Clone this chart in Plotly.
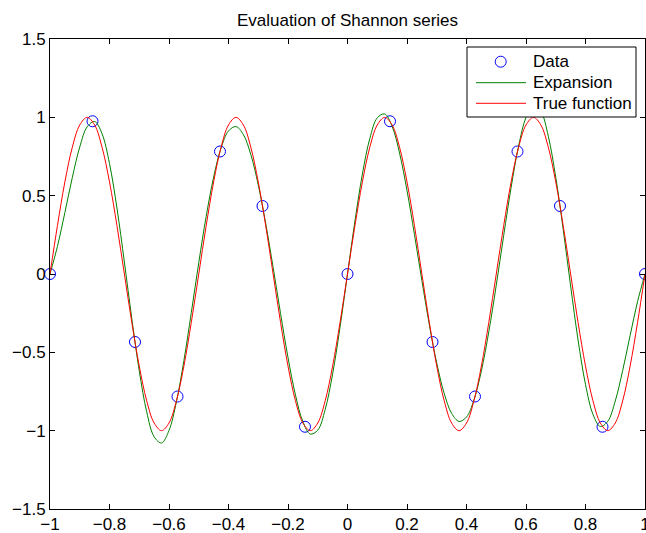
import plotly.graph_objects as go

# Sample data (15 samples)
data_x = [-1.0, -0.8571, -0.7143, -0.5714, -0.4286, -0.2857, -0.1429, 0.0,
          0.1429, 0.2857, 0.4286, 0.5714, 0.7143, 0.8571, 1.0]
data_y = [0.0, 0.975, -0.434, -0.782, 0.782, 0.434, -0.975, 0.0,
          0.975, -0.434, -0.782, 0.782, 0.434, -0.975, 0.0]

# Curve abscissae (step 0.025)
curve_x = [round(-1 + 0.025 * i, 3) for i in range(81)]

expansion_y = [
    0.0, 0.1764, 0.3921, 0.6157, 0.8107, 0.9398, 0.9736, 0.8950, 0.7050, 0.4210,
    0.0765, -0.2851, -0.6179, -0.8796, -1.0389, -1.0786, -0.9991, -0.8152, -0.5533, -0.2461,
    0.0717, 0.3685, 0.6187, 0.8038, 0.9130, 0.9412, 0.8895, 0.7624, 0.5691, 0.3229,
    0.0417, -0.2522, -0.5328, -0.7718, -0.9422, -1.0216, -0.9966, -0.8648, -0.6375, -0.3381,
    0.0, 0.3381, 0.6375, 0.8648, 0.9966, 1.0216, 0.9422, 0.7718, 0.5328, 0.2522,
    -0.0417, -0.3229, -0.5691, -0.7624, -0.8895, -0.9412, -0.9130, -0.8038, -0.6187, -0.3685,
    -0.0717, 0.2461, 0.5533, 0.8152, 0.9991, 1.0786, 1.0389, 0.8796, 0.6179, 0.2851,
    -0.0765, -0.4210, -0.7050, -0.8950, -0.9736, -0.9398, -0.8107, -0.6157, -0.3921, -0.1764,
    0.0,
]

true_y = [
    0.0, 0.309, 0.5878, 0.809, 0.9511, 1.0, 0.9511, 0.809, 0.5878, 0.309,
    0.0, -0.309, -0.5878, -0.809, -0.9511, -1.0, -0.9511, -0.809, -0.5878, -0.309,
    0.0, 0.309, 0.5878, 0.809, 0.9511, 1.0, 0.9511, 0.809, 0.5878, 0.309,
    0.0, -0.309, -0.5878, -0.809, -0.9511, -1.0, -0.9511, -0.809, -0.5878, -0.309,
    0.0, 0.309, 0.5878, 0.809, 0.9511, 1.0, 0.9511, 0.809, 0.5878, 0.309,
    0.0, -0.309, -0.5878, -0.809, -0.9511, -1.0, -0.9511, -0.809, -0.5878, -0.309,
    0.0, 0.309, 0.5878, 0.809, 0.9511, 1.0, 0.9511, 0.809, 0.5878, 0.309,
    0.0, -0.309, -0.5878, -0.809, -0.9511, -1.0, -0.9511, -0.809, -0.5878, -0.309,
    0.0,
]

legend_labels = ["Data", "Expansion", "True function"]

FONT = "Liberation Sans, Arial, Helvetica, sans-serif"
BLUE, GREEN, RED = "#0000ff", "#008000", "#ff0000"

W, H = 646, 533
ML, MR, MT, MB = 50, 1, 39, 24
PW, PH = W - ML - MR, H - MT - MB


def px_x(p):
    return (p - ML) / PW


def px_y(p):
    return (H - MB - p) / PH


fig = go.Figure()
fig.add_trace(go.Scatter(
    x=data_x, y=data_y, mode="markers", name=legend_labels[0], showlegend=False,
    marker=dict(symbol="circle-open", size=11, color=BLUE, line=dict(width=1, color=BLUE)),
    cliponaxis=False,
))
fig.add_trace(go.Scatter(
    x=curve_x, y=expansion_y, mode="lines", name=legend_labels[1], showlegend=False,
    line=dict(color=GREEN, width=1, shape="spline"),
))
fig.add_trace(go.Scatter(
    x=curve_x, y=true_y, mode="lines", name=legend_labels[2], showlegend=False,
    line=dict(color=RED, width=1, shape="spline"),
))

axis_common = dict(
    showgrid=False, zeroline=False, showline=True, linecolor="black", linewidth=1,
    mirror="ticks", ticks="inside", ticklen=5, tickcolor="black", tickwidth=1,
    tickfont=dict(family=FONT, size=17, color="black"), automargin=False,
)

# Legend box drawn by hand (MATLAB style)
rows = [61.7, 82.7, 103.3]
shapes = [dict(type="rect", xref="paper", yref="paper",
               x0=px_x(467), x1=px_x(636), y0=px_y(117), y1=px_y(47),
               fillcolor="white", line=dict(color="black", width=1), layer="above")]
shapes.append(dict(type="circle", xref="paper", yref="paper", layer="above",
                   xsizemode="pixel", ysizemode="pixel",
                   xanchor=px_x(500.7), yanchor=px_y(rows[0]),
                   x0=-5.5, x1=5.5, y0=-5.5, y1=5.5,
                   line=dict(color=BLUE, width=1)))
for row, col in zip(rows[1:], [GREEN, RED]):
    shapes.append(dict(type="line", xref="paper", yref="paper", layer="above",
                       x0=px_x(476), x1=px_x(526), y0=px_y(row), y1=px_y(row),
                       line=dict(color=col, width=1)))
annotations = [dict(text=lab, xref="paper", yref="paper", x=px_x(530.5), y=px_y(row),
                    xanchor="left", yanchor="middle", showarrow=False,
                    font=dict(family=FONT, size=17, color="black"))
               for lab, row in zip(legend_labels, rows)]

fig.update_layout(
    width=W, height=H,
    margin=dict(l=ML, r=MR, t=MT, b=MB, autoexpand=False),
    paper_bgcolor="white", plot_bgcolor="white",
    title=dict(text="Evaluation of Shannon series", x=0.5, xref="paper",
               y=1 - 20 / H, yref="container", yanchor="middle",
               font=dict(family=FONT, size=17, color="black")),
    xaxis=dict(range=[-1, 1], tickmode="array",
               tickvals=[-1, -0.8, -0.6, -0.4, -0.2, 0, 0.2, 0.4, 0.6, 0.8, 1],
               ticklabeloverflow="allow", ticklabelstandoff=0,
               **axis_common),
    yaxis=dict(range=[-1.5, 1.5], tickmode="array",
               tickvals=[-1.5, -1, -0.5, 0, 0.5, 1, 1.5],
               **axis_common),
    shapes=shapes,
    annotations=annotations,
    showlegend=False,
)

fig.write_html("out.html")
